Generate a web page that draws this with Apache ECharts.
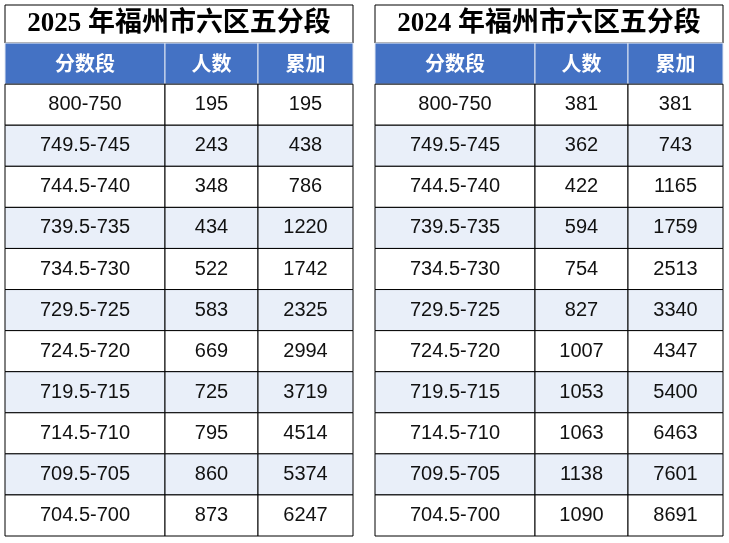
<!DOCTYPE html>
<html><head><meta charset="utf-8">
<script src="https://cdn.jsdelivr.net/npm/echarts@6/dist/echarts.min.js"></script>
<style>html,body{margin:0;background:#fff}#c{width:729px;height:543px}</style>
</head><body><div id="c"></div>
<script>
const ranges = ["800-750","749.5-745","744.5-740","739.5-735","734.5-730","729.5-725","724.5-720","719.5-715","714.5-710","709.5-705","704.5-700"]
const headers = ["分数段","人数","累加"]
const titles = ["2025 年福州市六区五分段","2024 年福州市六区五分段"]
const count2025 = [195,243,348,434,522,583,669,725,795,860,873]
const total2025 = [195,438,786,1220,1742,2325,2994,3719,4514,5374,6247]
const count2024 = [381,362,422,594,754,827,1007,1053,1063,1138,1090]
const total2024 = [381,743,1165,1759,2513,3340,4347,5400,6463,7601,8691]

// layout (axis units = px)
const colEdges = [0,160,253,348]
const rowEdges = [0,38]
for (let i = 0; i < 12; i++) rowEdges.push(38 + 41*(i+1))

function cells(title, counts, totals) {
    const out = []
    out.push({value:[0,3,0,1], name:title, kind:'title'})
    headers.forEach((h,c) => out.push({value:[c,c+1,1,2], name:h, kind:'head'}))
    ranges.forEach((r,i) => {
        const k = i % 2 ? 'alt' : 'row';
        [r, counts[i], totals[i]].forEach((t,c) => out.push({value:[c,c+1,i+2,i+3], name:String(t), kind:k}))
    })
    return out
}

const styles = {
    title:{fill:'#fff', stroke:'#000', color:'#000', font:'bold 27px "Liberation Serif","Noto Sans CJK SC"'},
    head:{fill:'#4472c4', stroke:'#dfe6f3', color:'#fff', font:'bold 20px "Noto Sans CJK SC"'},
    row:{fill:'#fff', stroke:'#000', color:'#111', font:'20px "Liberation Sans","Noto Sans CJK SC"'},
    alt:{fill:'#e9eff9', stroke:'#000', color:'#111', font:'20px "Liberation Sans","Noto Sans CJK SC"'}
}

function renderItem(params, api) {
    const d = params.dataIndex
    const item = params.seriesIndex === 0 ? left[d] : right[d]
    const v = item.value
    const p0 = api.coord([colEdges[v[0]], rowEdges[v[2]]])
    const p1 = api.coord([colEdges[v[1]], rowEdges[v[3]]])
    const s = styles[item.kind]
    return {
        type:'group',
        children:[
            {type:'rect', shape:{x:p0[0], y:p0[1], width:p1[0]-p0[0], height:p1[1]-p0[1]},
             style:{fill:s.fill, stroke:s.stroke, lineWidth:1}},
            {type:'text', style:{x:(p0[0]+p1[0])/2, y:(p0[1]+p1[1])/2, text:item.name,
             font:s.font, fill:s.color, align:'center', verticalAlign:'middle'}}
        ]
    }
}

const left = cells(titles[0], count2025, total2025)
const right = cells(titles[1], count2024, total2024)

const chart = echarts.init(document.getElementById('c'))
const axX = i => ({gridIndex:i, type:'value', min:0, max:348, show:false})
const axY = i => ({gridIndex:i, type:'value', min:0, max:rowEdges[rowEdges.length-1], inverse:true, show:false})
chart.setOption({
    animation:false,
    grid:[{left:5, top:5, width:348, height:531},{left:375, top:5, width:348, height:531}],
    xAxis:[axX(0), axX(1)],
    yAxis:[axY(0), axY(1)],
    series:[
        {type:'custom', xAxisIndex:0, yAxisIndex:0, data:left, renderItem, clip:false},
        {type:'custom', xAxisIndex:1, yAxisIndex:1, data:right, renderItem, clip:false}
    ]
})
</script></body></html>
